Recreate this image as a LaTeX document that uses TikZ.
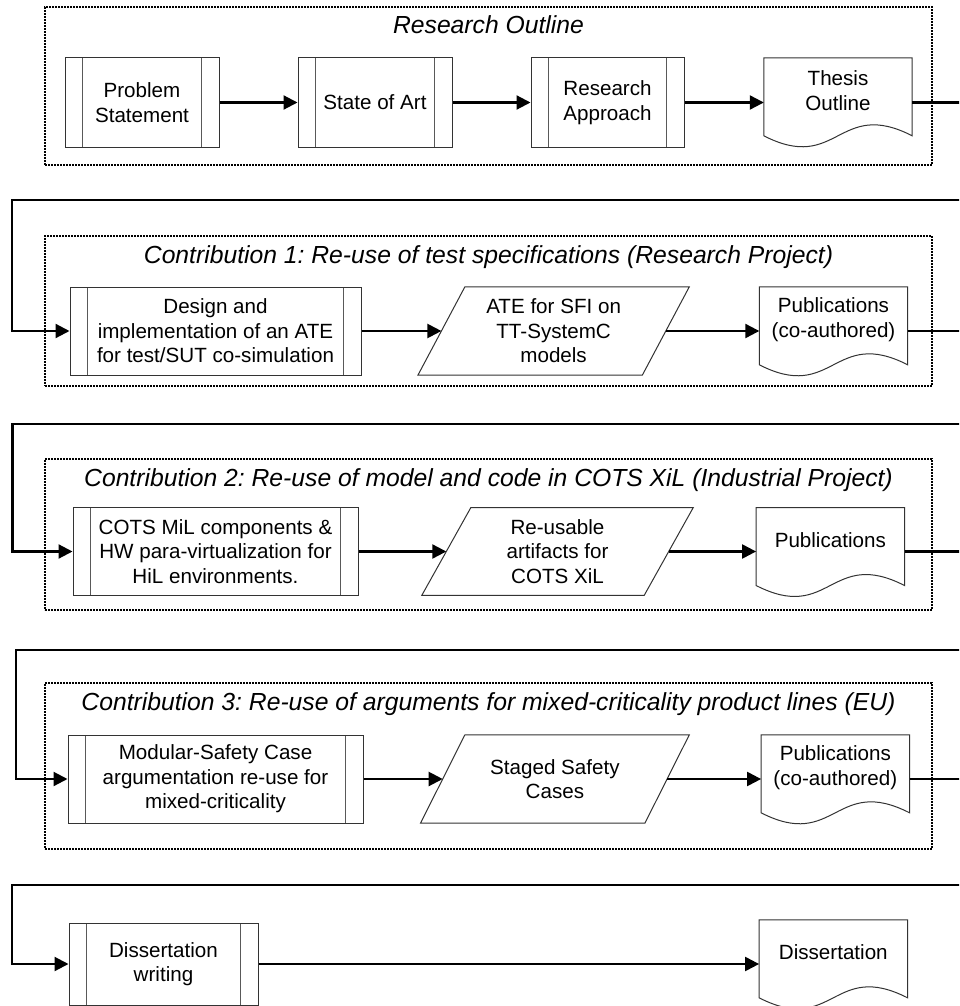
\documentclass[tikz,border=0pt]{standalone}
\usepackage{fontspec}
\setmainfont{Liberation Sans}
\usetikzlibrary{arrows.meta,calc}
\frenchspacing

\tikzset{
  body/.style={font=\fontsize{20.6}{24.5}\selectfont, align=center, inner sep=0pt},
  shapeline/.style={draw=black!80, line width=1pt},
  procbox/.style={body, shapeline, path picture={
      \draw[black!65, line width=1pt]
        ([xshift=17.5pt]path picture bounding box.north west) --
        ([xshift=17.5pt]path picture bounding box.south west);
      \draw[black!65, line width=1pt]
        ([xshift=-17.5pt]path picture bounding box.north east) --
        ([xshift=-17.5pt]path picture bounding box.south east);}},
  datanode/.style={body, minimum height=88pt},
  docnode/.style={body, minimum width=148pt, minimum height=65pt},
  groupframe/.style={draw=black, line width=1.1pt, dash pattern=on 1.6pt off 1.4pt},
  grouptitle/.style={font=\fontsize{24.7}{29}\selectfont\itshape, inner sep=0pt, anchor=base},
  conn/.style={line width=2.2pt, -{Triangle[length=14pt,width=14pt]}},
}

% document symbol: straight top and sides, wavy bottom edge
\newcommand\docoutline[1]{%
  \draw[shapeline] (#1.north west) -- (#1.north east) -- ($(#1.north east)+(0,78)$)
    .. controls ($(#1.north)+(0,40)$) and ($(#1.north)+(0,116)$) ..
    ($(#1.north west)+(0,78)$) -- cycle;}

% data symbol: parallelogram leaning right
\newcommand\paraoutline[2]{%
  \draw[shapeline] ($(#1.north west)+(#2,0)$) -- ($(#1.north east)+(#2,0)$)
    -- ($(#1.south east)-(#2,0)$) -- ($(#1.south west)-(#2,0)$) -- cycle;}

\begin{document}
\begin{tikzpicture}[x=1pt, y=-1pt]
\useasboundingbox (0,0) rectangle (959,1006);
\clip (0,0) rectangle (959,1006);

% ---------------- Research Outline ----------------
\node[groupframe, minimum width=887pt, minimum height=158pt] (g1) at (488.5,86) {};
\node[grouptitle] (g1t) at (488.5,34) {Research Outline};
\node[procbox, minimum width=154pt, minimum height=89pt] (ps) at (142,102.5) {Problem\\Statement};
\node[procbox, minimum width=154pt, minimum height=89pt] (sa) at (375,102.5) {State of Art};
\node[procbox, minimum width=153pt, minimum height=89pt] (ra) at (607.5,102.5) {Research\\Approach};
\node[docnode] (to) at (838,90.5) {Thesis\\Outline};
\docoutline{to}
\draw[conn] (ps) -- (sa);
\draw[conn] (sa) -- (ra);
\draw[conn] (ra.east) -- (ra.east -| to.west);

% ---------------- Contribution 1 ----------------
\node[groupframe, minimum width=887pt, minimum height=150pt] (g2) at (488.5,311) {};
\node[grouptitle] (g2t) at (488.5,263) {Contribution 1: Re-use of test specifications (Research Project)};
\node[procbox, minimum width=291pt, minimum height=88pt] (dsg) at (215.5,331)
  {Design and\\implementation of an ATE\\for test/SUT co-simulation};
\node[datanode, minimum width=224pt] (p2) at (553.6,331) {ATE for SFI on\\TT-SystemC\\models};
\paraoutline{p2}{23.5}
\node[docnode] (pub1) at (833.5,319.5) {Publications\\(co-authored)};
\docoutline{pub1}
\draw[conn] (dsg) -- (p2);
\draw[conn] (p2.east) -- (p2.east -| pub1.west);

% ---------------- Contribution 2 ----------------
\node[groupframe, minimum width=887pt, minimum height=151pt] (g3) at (488.5,534.5) {};
\node[grouptitle] (g3t) at (488.5,486) {Contribution 2: Re-use of model and code in COTS XiL (Industrial Project)};
\node[procbox, minimum width=285pt, minimum height=87.5pt] (cots) at (215.5,551.5)
  {COTS MiL components \&\\HW para-virtualization for\\HiL environments.};
\node[datanode, minimum width=222pt, minimum height=87.3pt] (p3) at (557.5,551.5) {Re-usable\\artifacts for\\COTS XiL};
\paraoutline{p3}{24.5}
\node[docnode] (pub2) at (830.3,540.2) {Publications};
\docoutline{pub2}
\draw[conn] (cots) -- (p3);
\draw[conn] (p3.east) -- (p3.east -| pub2.west);

% ---------------- Contribution 3 ----------------
\node[groupframe, minimum width=887pt, minimum height=166pt] (g4) at (488.5,766) {};
\node[grouptitle] (g4t) at (488.5,710) {Contribution 3: Re-use of arguments for mixed-criticality product lines (EU)};
\node[procbox, minimum width=295pt, minimum height=88pt] (msc) at (215.5,779)
  {Modular-Safety Case\\argumentation re-use for\\mixed-criticality};
\node[datanode, minimum width=224pt] (p4) at (554.9,779) {Staged Safety\\Cases};
\paraoutline{p4}{22.2}
\node[docnode] (pub3) at (835.3,767.5) {Publications\\(co-authored)};
\docoutline{pub3}
\draw[conn] (msc) -- (p4);
\draw[conn] (p4.east) -- (p4.east -| pub3.west);

% ---------------- Dissertation ----------------
\node[procbox, minimum width=189pt, minimum height=82pt] (dw) at (163.5,964) {Dissertation\\writing};
\node[docnode] (diss) at (833.3,952.5) {Dissertation};
\docoutline{diss}
\draw[conn] (dw.east) -- (dw.east -| diss.west);

% ---------------- links between the stages ----------------
\coordinate (e1) at (975,200);   \coordinate (w1) at (12,200);
\coordinate (e2) at (975,424.3); \coordinate (w2) at (12.5,424.3);
\coordinate (e3) at (975,650);   \coordinate (w3) at (15.7,650);
\coordinate (e4) at (975,885);   \coordinate (w4) at (11.7,885);
\draw[conn] (to.east |- ra.east) -| (e1) -- (w1) |- (dsg.west);
\draw[conn] (pub1.east |- p2.east) -| (e2) -- (w2) |- (cots.west);
\draw[conn] (pub2.east |- p3.east) -| (e3) -- (w3) |- (msc.west);
\draw[conn] (pub3.east |- p4.east) -| (e4) -- (w4) |- (dw.west);
\end{tikzpicture}
\end{document}
